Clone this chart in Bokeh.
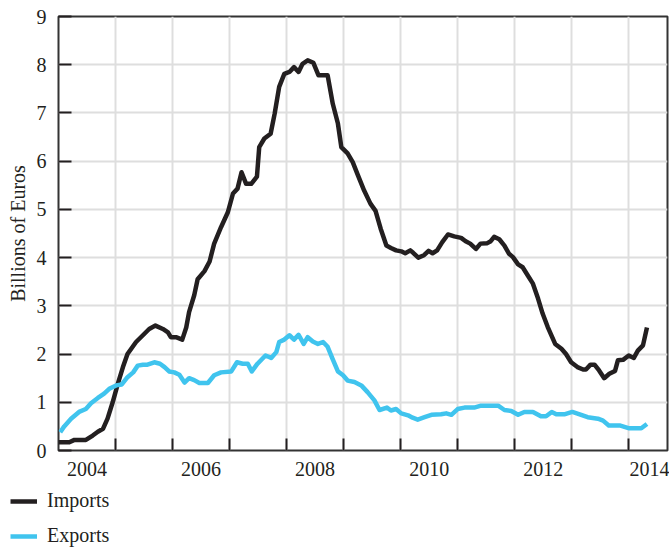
from bokeh.plotting import figure
from bokeh.models import (Range1d, FixedTicker, CustomJSTickFormatter, Legend, LegendItem, Column)
from bokeh.embed import file_html
from bokeh.resources import INLINE

# ---- data (decimal years, billions of euros) ----
imports_year = [2004.00, 2004.19, 2004.28, 2004.48, 2004.60, 2004.69, 2004.78, 2004.86, 2004.95,
                2005.04, 2005.13, 2005.21, 2005.36, 2005.48, 2005.59, 2005.70, 2005.83, 2005.92, 2005.97,
                2006.06, 2006.17, 2006.24, 2006.29, 2006.38, 2006.44, 2006.56, 2006.65, 2006.73, 2006.85, 2006.97,
                2007.06, 2007.14, 2007.21, 2007.29, 2007.38, 2007.48, 2007.52, 2007.61, 2007.72, 2007.79, 2007.87, 2007.96,
                2008.05, 2008.13, 2008.21, 2008.28, 2008.37, 2008.47, 2008.56, 2008.72, 2008.81, 2008.90, 2008.96,
                2009.07, 2009.16, 2009.25, 2009.36, 2009.47, 2009.56, 2009.65, 2009.75, 2009.83, 2009.92,
                2010.01, 2010.08, 2010.17, 2010.22, 2010.31, 2010.41, 2010.49, 2010.56, 2010.64, 2010.73, 2010.83, 2010.94,
                2011.06, 2011.14, 2011.22, 2011.32, 2011.40, 2011.52, 2011.58, 2011.64, 2011.73, 2011.82, 2011.90, 2011.97,
                2012.06, 2012.14, 2012.23, 2012.32, 2012.41, 2012.49, 2012.58, 2012.71, 2012.82, 2012.90, 2012.99,
                2013.10, 2013.20, 2013.25, 2013.33, 2013.40, 2013.48, 2013.57, 2013.66, 2013.76, 2013.81, 2013.90,
                2014.00, 2014.09, 2014.16, 2014.25, 2014.32]
imports_value = [0.17, 0.17, 0.22, 0.22, 0.31, 0.39, 0.45, 0.66, 1.00,
                 1.38, 1.73, 2.00, 2.25, 2.39, 2.52, 2.59, 2.52, 2.45, 2.35,
                 2.35, 2.30, 2.55, 2.87, 3.22, 3.55, 3.72, 3.92, 4.29, 4.63, 4.94,
                 5.33, 5.43, 5.77, 5.53, 5.53, 5.68, 6.29, 6.47, 6.57, 6.98, 7.54, 7.81,
                 7.85, 7.95, 7.85, 8.02, 8.09, 8.04, 7.78, 7.78, 7.19, 6.78, 6.29,
                 6.16, 5.98, 5.71, 5.39, 5.12, 4.97, 4.60, 4.25, 4.20, 4.15,
                 4.13, 4.09, 4.15, 4.10, 4.00, 4.05, 4.14, 4.09, 4.15, 4.32, 4.48, 4.44,
                 4.41, 4.34, 4.29, 4.18, 4.29, 4.30, 4.34, 4.43, 4.38, 4.25, 4.08, 4.01,
                 3.86, 3.80, 3.63, 3.46, 3.15, 2.84, 2.56, 2.21, 2.11, 2.00, 1.83,
                 1.73, 1.68, 1.68, 1.78, 1.78, 1.66, 1.50, 1.59, 1.65, 1.87, 1.88,
                 1.97, 1.92, 2.07, 2.18, 2.55]

exports_year = [2004.03, 2004.10, 2004.22, 2004.36, 2004.48, 2004.57, 2004.69, 2004.80, 2004.89,
                2005.01, 2005.11, 2005.21, 2005.31, 2005.39, 2005.48, 2005.56, 2005.68, 2005.78, 2005.86, 2005.94,
                2006.03, 2006.12, 2006.21, 2006.29, 2006.38, 2006.47, 2006.62, 2006.73, 2006.85,
                2007.03, 2007.13, 2007.23, 2007.32, 2007.39, 2007.49, 2007.63, 2007.73, 2007.82, 2007.87, 2007.96,
                2008.05, 2008.13, 2008.21, 2008.30, 2008.37, 2008.46, 2008.55, 2008.64, 2008.72, 2008.81, 2008.90, 2008.99,
                2009.07, 2009.19, 2009.31, 2009.42, 2009.54, 2009.63, 2009.76, 2009.83, 2009.92,
                2010.01, 2010.13, 2010.21, 2010.30, 2010.42, 2010.54, 2010.71, 2010.80, 2010.89,
                2011.00, 2011.12, 2011.29, 2011.41, 2011.71, 2011.82, 2011.94,
                2012.06, 2012.17, 2012.32, 2012.46, 2012.55, 2012.65, 2012.73, 2012.87,
                2013.01, 2013.14, 2013.28, 2013.46, 2013.55, 2013.65, 2013.84,
                2014.01, 2014.22, 2014.32]
exports_value = [0.38, 0.50, 0.66, 0.80, 0.86, 0.98, 1.09, 1.18, 1.28,
                 1.35, 1.37, 1.52, 1.62, 1.76, 1.78, 1.78, 1.83, 1.80, 1.73, 1.64,
                 1.62, 1.57, 1.41, 1.50, 1.46, 1.40, 1.40, 1.56, 1.62,
                 1.64, 1.83, 1.80, 1.80, 1.64, 1.80, 1.97, 1.92, 2.04, 2.25, 2.30,
                 2.39, 2.30, 2.40, 2.21, 2.35, 2.26, 2.21, 2.25, 2.15, 1.89, 1.64, 1.56,
                 1.45, 1.42, 1.35, 1.21, 1.04, 0.84, 0.89, 0.83, 0.86,
                 0.77, 0.73, 0.68, 0.64, 0.69, 0.74, 0.75, 0.77, 0.74,
                 0.86, 0.89, 0.89, 0.93, 0.93, 0.84, 0.82,
                 0.74, 0.80, 0.80, 0.71, 0.71, 0.80, 0.75, 0.75,
                 0.80, 0.75, 0.69, 0.66, 0.62, 0.52, 0.52,
                 0.46, 0.46, 0.55]

label_years = [2004, 2006, 2008, 2010, 2012, 2014]
label_ticks = [2004.5, 2006.5, 2008.5, 2010.5, 2012.5, 2014.42]
year_boundaries = [2005, 2006, 2007, 2008, 2009, 2010, 2011, 2012, 2013, 2014]
y_ticks = [0, 1, 2, 3, 4, 5, 6, 7, 8, 9]
series_names = ["Imports", "Exports"]

FONT = "Liberation Serif"
INK = "#231f20"
CYAN = "#40c4ee"

p = figure(width=669, height=485, output_backend="svg", toolbar_location=None,
           x_range=Range1d(2004.0, 2014.68), y_range=Range1d(0, 9),
           min_border_left=58, min_border_right=2, min_border_top=16, min_border_bottom=35)

p.background_fill_color = "white"
p.border_fill_color = "white"
p.outline_line_color = "#333333"
p.outline_line_width = 2

p.line(imports_year, imports_value, line_color=INK, line_width=4.5, line_join="round")
p.line(exports_year, exports_value, line_color=CYAN, line_width=4.5, line_join="round")

# x axis: labels centred in the year, inward ticks at year boundaries
xa = p.xaxis[0]
xa.ticker = FixedTicker(ticks=label_ticks, minor_ticks=year_boundaries)
xa.formatter = CustomJSTickFormatter(code="return Math.floor(tick).toFixed(0);")
xa.major_tick_line_color = None
xa.minor_tick_in = 12
xa.minor_tick_out = 0
xa.minor_tick_line_color = INK
xa.minor_tick_line_width = 2
xa.axis_line_color = None
xa.major_label_text_font = FONT
xa.major_label_text_font_size = "20px"
xa.major_label_text_color = INK
xa.major_label_standoff = 5

ya = p.yaxis[0]
ya.ticker = FixedTicker(ticks=y_ticks, minor_ticks=[])
ya.major_tick_in = 13
ya.major_tick_out = 0
ya.major_tick_line_color = INK
ya.major_tick_line_width = 2
ya.minor_tick_line_color = None
ya.axis_line_color = None
ya.major_label_text_font = FONT
ya.major_label_text_font_size = "20px"
ya.major_label_text_color = INK
ya.major_label_standoff = 12
ya.axis_label = "Billions of Euros"
ya.axis_label_text_font = FONT
ya.axis_label_text_font_size = "20px"
ya.axis_label_text_font_style = "normal"
ya.axis_label_text_color = INK
ya.axis_label_standoff = 5

p.xgrid.ticker = FixedTicker(ticks=year_boundaries)
for g in (p.xgrid[0], p.ygrid[0]):
    g.grid_line_color = "#dedede"
    g.grid_line_width = 2

# ---- legend strip below the chart ----
lg = figure(width=669, height=65, output_backend="svg", toolbar_location=None,
            x_axis_type=None, y_axis_type=None,
            x_range=Range1d(0, 1), y_range=Range1d(0, 1),
            min_border_left=0, min_border_right=0, min_border_top=0, min_border_bottom=0)
lg.outline_line_color = None
lg.xgrid.visible = False
lg.ygrid.visible = False
l_imp = lg.line(imports_year, imports_value, line_color=INK, line_width=4.5)
l_exp = lg.line(exports_year, exports_value, line_color=CYAN, line_width=4.5)

legend = Legend(items=[LegendItem(label=series_names[0], renderers=[l_imp]),
                       LegendItem(label=series_names[1], renderers=[l_exp])],
                location=(10, 3), orientation="vertical",
                glyph_width=27, glyph_height=20, label_height=20, spacing=12,
                label_standoff=10, padding=0, margin=0,
                label_text_font=FONT, label_text_font_size="20px", label_text_color=INK,
                background_fill_alpha=0, border_line_alpha=0)
lg.add_layout(legend)

# nested column so the legend strip keeps its own frame (no frame alignment)
layout = Column(children=[p, Column(children=[lg])], spacing=0)
open("out.html", "w").write(file_html(layout, INLINE))
